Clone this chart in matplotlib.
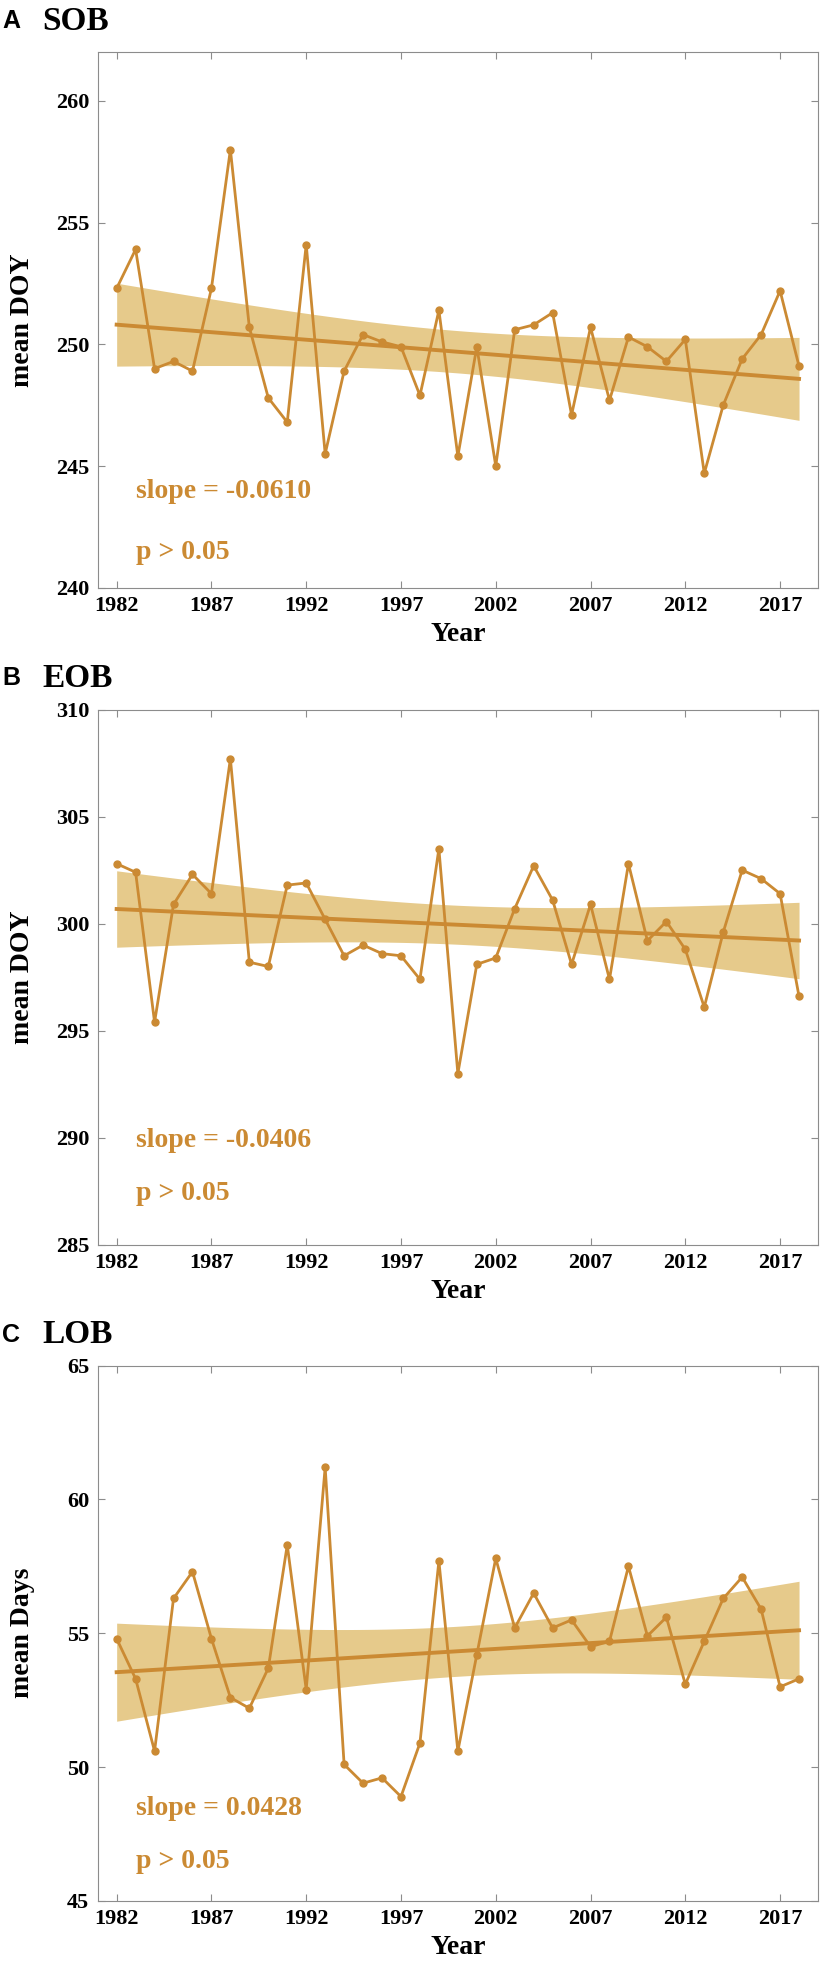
import numpy as np
import matplotlib
matplotlib.use('Agg')
import matplotlib.pyplot as plt

plt.rcParams['font.family'] = ['Liberation Serif', 'DejaVu Serif']
plt.rcParams['font.weight'] = 'bold'

years = np.arange(1982, 2019)

sob = [252.3, 253.9, 249.0, 249.3, 248.9, 252.3, 258.0, 250.7, 247.8, 246.8,
       254.1, 245.5, 248.9, 250.4, 250.1, 249.9, 247.9, 251.4, 245.4, 249.9,
       245.0, 250.6, 250.8, 251.3, 247.1, 250.7, 247.7, 250.3, 249.9, 249.3,
       250.2, 244.7, 247.5, 249.4, 250.4, 252.2, 249.1]

eob = [302.8, 302.4, 295.4, 300.9, 302.3, 301.4, 307.7, 298.2, 298.0, 301.8,
       301.9, 300.2, 298.5, 299.0, 298.6, 298.5, 297.4, 303.5, 293.0, 298.1,
       298.4, 300.7, 302.7, 301.1, 298.1, 300.9, 297.4, 302.8, 299.2, 300.1,
       298.8, 296.1, 299.6, 302.5, 302.1, 301.4, 296.6]

lob = [54.8, 53.3, 50.6, 56.3, 57.3, 54.8, 52.6, 52.2, 53.7, 58.3,
       52.9, 61.2, 50.1, 49.4, 49.6, 48.9, 50.9, 57.7, 50.6, 54.2,
       57.8, 55.2, 56.5, 55.2, 55.5, 54.5, 54.7, 57.5, 54.9, 55.6,
       53.1, 54.7, 56.3, 57.1, 55.9, 53.0, 53.3]

panel_letters = ['A', 'B', 'C']
panel_titles = ['SOB', 'EOB', 'LOB']
ylabels = ['mean DOY', 'mean DOY', 'mean Days']
ylims = [(240, 262), (285, 310), (45, 65)]
yticks = [[240, 245, 250, 255, 260], [285, 290, 295, 300, 305, 310], [45, 50, 55, 60, 65]]
slopes_txt = ['slope = -0.0610', 'slope = -0.0406', 'slope = 0.0428']
p_txt = ['p > 0.05', 'p > 0.05', 'p > 0.05']
# vertical positions (axes fraction) of slope line and p line
txt_y = [(0.179, 0.065), (0.195, 0.096), (0.172, 0.073)]
xticks = [1982, 1987, 1992, 1997, 2002, 2007, 2012, 2017]

line_color = '#CB8A33'
band_color = '#E6CA8B'
axis_color = '#8C8C8C'

W, H = 827, 1970
fig = plt.figure(figsize=(W / 100, H / 100), dpi=100)

left = 97.7 / W
width = (818 - 97.7) / W
height = 535.4 / H
tops = [52.3, 709.5, 1365.6]

for i, series in enumerate([sob, eob, lob]):
    bottom = 1 - (tops[i] + 535.4) / H
    ax = fig.add_axes([left, bottom, width, height])
    y = np.array(series)
    x = years.astype(float)

    # linear fit with 95% confidence band
    b, a = np.polyfit(x, y, 1)
    xs = np.linspace(x.min(), x.max(), 200)
    fit = a + b * xs
    resid = y - (a + b * x)
    n = len(x)
    s = np.sqrt(np.sum(resid ** 2) / (n - 2))
    sxx = np.sum((x - x.mean()) ** 2)
    se = s * np.sqrt(1 / n + (xs - x.mean()) ** 2 / sxx)
    t = 2.03
    ax.fill_between(xs, fit - t * se, fit + t * se, color=band_color, lw=0, zorder=1)
    ax.plot(xs, fit, color=line_color, lw=2.8, zorder=2)
    ax.plot(x, y, color=line_color, lw=2.0, marker='o', ms=5, zorder=3)

    ax.set_xlim(1981, 2019)
    ax.set_ylim(*ylims[i])
    ax.set_xticks(xticks)
    ax.set_yticks(yticks[i])
    ax.tick_params(direction='in', length=5, width=0.8, color=axis_color,
                   top=True, right=True, labelsize=16, pad=6)
    for sp in ax.spines.values():
        sp.set_color(axis_color)
        sp.set_linewidth(0.8)

    ax.set_xlabel('Year', fontsize=20, fontweight='bold', labelpad=4)
    ax.set_ylabel(ylabels[i], fontsize=20, fontweight='bold')
    ax.yaxis.set_label_coords(-0.087, 0.5)

    sy, py = txt_y[i]
    ax.text(0.0528, sy, slopes_txt[i], transform=ax.transAxes, color=line_color,
            fontsize=20, fontweight='bold', va='center', ha='left')
    ax.text(0.0528, py, p_txt[i], transform=ax.transAxes, color=line_color,
            fontsize=20, fontweight='bold', va='center', ha='left')

    ax.text(-0.133, 1.058, panel_letters[i], transform=ax.transAxes, fontsize=18,
            fontweight='bold', family=['Liberation Sans', 'DejaVu Sans'], va='center', ha='left')
    ax.text(-0.0773, 1.058, panel_titles[i], transform=ax.transAxes, fontsize=24,
            fontweight='bold', va='center', ha='left')

fig.savefig('out.png', dpi=100)
